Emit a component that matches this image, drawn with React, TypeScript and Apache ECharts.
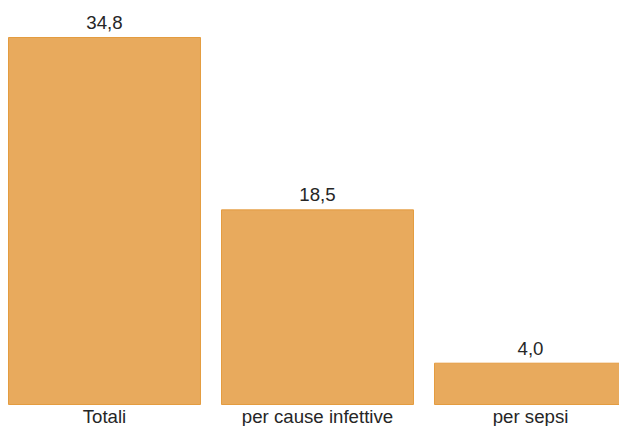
import React, { useEffect, useRef } from "react";
import * as echarts from "echarts";

const categories = ["Totali", "per cause infettive", "per sepsi"];
const values = [34.8, 18.5, 4.0];

export default function App() {
  const ref = useRef<HTMLDivElement>(null);
  useEffect(() => {
    document.body.style.margin = "0";
    document.body.style.overflow = "hidden";
    const chart = echarts.init(ref.current!, null, { renderer: "svg" });
    chart.setOption({
      animation: false,
      backgroundColor: "#ffffff",
      grid: { left: 0, width: 639, top: 37, bottom: 21, containLabel: false },
      xAxis: {
        type: "category",
        data: categories,
        axisLine: { show: false },
        axisTick: { show: false },
        axisLabel: {
          color: "#262626",
          fontSize: 18.67,
          fontFamily: "Liberation Sans, Arial, sans-serif",
          margin: 2,
          interval: 0,
        },
      },
      yAxis: {
        type: "value",
        min: 0,
        max: 34.8,
        show: false,
        splitLine: { show: false },
      },
      series: [
        {
          type: "bar",
          data: values,
          barCategoryGap: "9.4%",
          itemStyle: { color: "#e8aa5d", borderColor: "#e49c40", borderWidth: 1 },
          label: {
            show: true,
            position: "top",
            distance: 5,
            color: "#262626",
            fontSize: 18.67,
            fontFamily: "Liberation Sans, Arial, sans-serif",
            formatter: (p: any) => p.value.toFixed(1).replace(".", ","),
          },
        },
      ],
    });
    return () => chart.dispose();
  }, []);
  return (
    <div style={{ position: "relative", width: 619, height: 426, overflow: "hidden" }}>
      <div ref={ref} style={{ position: "absolute", left: -2, top: 0, width: 641, height: 426 }} />
    </div>
  );
}
